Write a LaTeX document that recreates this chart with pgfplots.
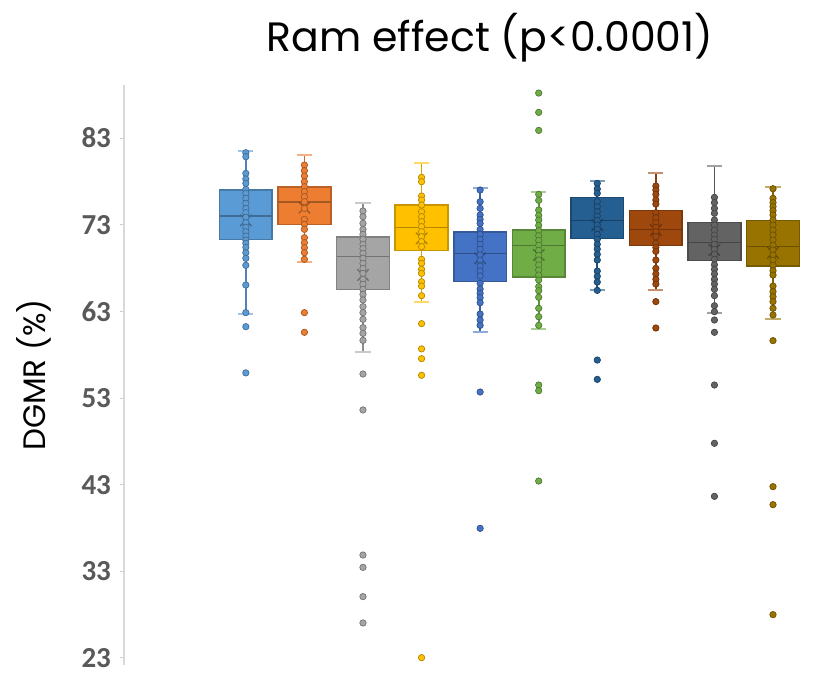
\documentclass[border=0pt]{standalone}
\usepackage{pgfplots}
\pgfplotsset{compat=1.18}
\usepackage{fontspec}
\setmainfont{Carlito}
\newfontfamily\comic{Poppins}
\definecolor{c1}{HTML}{5B9BD5}
\definecolor{c2}{HTML}{ED7D31}
\definecolor{c3}{HTML}{A5A5A5}
\definecolor{c4}{HTML}{FFC000}
\definecolor{c5}{HTML}{4472C4}
\definecolor{c6}{HTML}{70AD47}
\definecolor{c7}{HTML}{255E91}
\definecolor{c8}{HTML}{9E480E}
\definecolor{c9}{HTML}{636363}
\definecolor{c10}{HTML}{997300}
\definecolor{ticktext}{HTML}{595959}
\pgfplotsset{
  pts/.style={only marks, mark=*, mark size=1.6pt, mark options={fill=#1, draw=#1!70!black, line width=0.35pt}},
}
% #1 position, #2 lower whisker, #3 Q1, #4 median, #5 Q3, #6 upper whisker, #7 mean, #8 colour
\newcommand\drawbox[8]{%
  \addplot[draw=#8!85!black, line width=0.8pt, x filter/.expression={x+#1}] coordinates {(0,#2) (0,#3)};
  \addplot[draw=#8!85!black, line width=0.8pt, x filter/.expression={x+#1}] coordinates {(0,#5) (0,#6)};
  \addplot[draw=#8!60, line width=1pt, x filter/.expression={x+#1}] coordinates {(-0.13,#2) (0.13,#2)};
  \addplot[draw=#8!60, line width=1pt, x filter/.expression={x+#1}] coordinates {(-0.13,#6) (0.13,#6)};
  \addplot[fill=#8, draw=#8!78!black, line width=0.8pt, x filter/.expression={x+#1}] coordinates {(-0.45,#3) (0.45,#3) (0.45,#5) (-0.45,#5)} -- cycle;
  \addplot[draw=#8!70!black, line width=0.8pt, x filter/.expression={x+#1}] coordinates {(-0.45,#4) (0.45,#4)};
  \addplot[only marks, mark=x, mark size=4pt, mark options={draw=#8!65!black, line width=0.6pt}, x filter/.expression={x+#1}] coordinates {(0,#7)};
}
\begin{document}
\begin{tikzpicture}
\useasboundingbox (-62pt,-6.5pt) rectangle (354.5pt,332.5pt);
\begin{axis}[at={(0,0)}, anchor=south west, scale only axis,
  width=345pt, height=290pt,
  xmin=-1.08, xmax=10.7, ymin=22.19, ymax=89.12,
  hide x axis, axis y line*=left,
  axis line style={draw=gray!30, line width=0.6pt},
  ytick={23,33,43,53,63,73,83},
  tick align=outside, major tick length=2pt,
  tick style={draw=gray!40, line width=0.5pt},
  /pgf/number format/assume math mode=true,
  yticklabel style={font=\bfseries\fontsize{14.5}{16}\selectfont, text=ticktext, xshift=-1pt},
  clip=false]
\drawbox{1}{62.65}{71.31}{74.0}{77.0}{81.54}{73.5}{c1}
\drawbox{2}{68.69}{73.02}{75.62}{77.36}{81.04}{74.96}{c2}
\drawbox{3}{58.27}{65.5}{69.35}{71.58}{75.46}{67.19}{c3}
\drawbox{4}{64.04}{70.0}{72.69}{75.27}{80.08}{71.42}{c4}
\drawbox{5}{60.65}{66.46}{69.69}{72.19}{77.19}{69.12}{c5}
\drawbox{6}{61.0}{66.96}{70.62}{72.38}{76.73}{69.5}{c6}
\drawbox{7}{65.46}{71.42}{73.5}{76.12}{78.0}{72.96}{c7}
\drawbox{8}{65.46}{70.62}{72.46}{74.65}{79.0}{72.38}{c8}
\drawbox{9}{62.77}{68.85}{70.96}{73.23}{79.81}{70.08}{c9}
\drawbox{10}{62.12}{68.23}{70.5}{73.5}{77.38}{69.77}{c10}
% data points
\addplot[pts=c1] coordinates {(1,81.3) (1,80.85) (1,78.92) (1,78.27) (1,77.77) (1,77.08) (1,76.62) (1,76.04) (1,75.46) (1,74.88) (1,74.38) (1,73.85) (1,73.23) (1,72.69) (1,72.19) (1,71.69) (1,71.23) (1,70.85) (1,70.38) (1,69.77) (1,69.12) (1,68.31) (1,66.04) (1,62.85) (1,61.23) (1,55.9)};
\addplot[pts=c2] coordinates {(2,79.88) (2,79.23) (2,78.62) (2,77.96) (2,77.38) (2,76.81) (2,76.23) (2,75.65) (2,74.88) (2,73.61) (2,73.04) (2,72.46) (2,71.5) (2,70.92) (2,70.35) (2,69.77) (2,69.0) (2,62.85) (2,60.58)};
\addplot[pts=c3] coordinates {(3,74.58) (3,73.92) (3,73.15) (3,72.46) (3,71.88) (3,71.31) (3,70.73) (3,70.23) (3,69.69) (3,69.12) (3,68.54) (3,67.96) (3,67.38) (3,66.69) (3,66.12) (3,65.54) (3,64.96) (3,64.31) (3,63.54) (3,62.85) (3,62.08) (3,61.12) (3,60.46) (3,59.65) (3,55.77) (3,51.62) (3,34.88) (3,33.46) (3,30.08) (3,27.04)};
\addplot[pts=c4] coordinates {(4,78.46) (4,77.96) (4,76.31) (4,75.85) (4,75.27) (4,74.5) (4,73.92) (4,73.35) (4,72.77) (4,72.19) (4,71.62) (4,71.04) (4,70.46) (4,69.0) (4,68.54) (4,67.85) (4,67.38) (4,66.42) (4,65.92) (4,64.81) (4,61.58) (4,58.67) (4,57.54) (4,55.62) (4,23.04)};
\addplot[pts=c5] coordinates {(5,77.0) (5,75.65) (5,74.88) (5,74.12) (5,73.61) (5,73.15) (5,72.46) (5,71.88) (5,71.31) (5,70.73) (5,70.15) (5,69.5) (5,68.92) (5,68.23) (5,67.65) (5,67.08) (5,66.23) (5,65.58) (5,65.08) (5,64.58) (5,64.0) (5,62.69) (5,62.0) (5,61.38) (5,53.69) (5,37.96)};
\addplot[pts=c6] coordinates {(6,88.19) (6,85.96) (6,83.88) (6,76.5) (6,75.81) (6,74.69) (6,74.08) (6,73.54) (6,72.92) (6,72.31) (6,71.73) (6,71.19) (6,70.62) (6,70.04) (6,69.46) (6,68.92) (6,68.35) (6,67.77) (6,67.19) (6,66.62) (6,65.85) (6,65.38) (6,64.62) (6,63.35) (6,62.38) (6,61.38) (6,54.5) (6,53.85) (6,43.42)};
\addplot[pts=c7] coordinates {(7,77.77) (7,77.12) (7,76.62) (7,75.65) (7,75.08) (7,74.5) (7,74.0) (7,73.5) (7,72.96) (7,72.46) (7,71.88) (7,71.31) (7,70.73) (7,70.19) (7,69.58) (7,68.92) (7,67.65) (7,67.04) (7,66.38) (7,65.42) (7,57.38) (7,55.15)};
\addplot[pts=c8] coordinates {(8,77.46) (8,77.0) (8,76.5) (8,75.85) (8,75.38) (8,74.38) (8,73.81) (8,73.23) (8,72.69) (8,72.19) (8,71.62) (8,70.85) (8,70.38) (8,69.92) (8,68.92) (8,67.96) (8,67.31) (8,66.69) (8,66.15) (8,64.12) (8,61.08)};
\addplot[pts=c9] coordinates {(9,76.15) (9,75.54) (9,74.88) (9,74.31) (9,73.54) (9,72.96) (9,72.38) (9,71.81) (9,71.31) (9,70.73) (9,70.15) (9,69.58) (9,69.0) (9,68.38) (9,67.85) (9,67.31) (9,66.69) (9,66.15) (9,65.54) (9,64.81) (9,63.65) (9,62.96) (9,62.0) (9,60.58) (9,54.5) (9,47.77) (9,41.65)};
\addplot[pts=c10] coordinates {(10,77.15) (10,76.04) (10,75.54) (10,75.08) (10,74.62) (10,74.12) (10,73.54) (10,72.96) (10,72.38) (10,71.81) (10,71.23) (10,70.62) (10,70.08) (10,69.5) (10,68.92) (10,68.31) (10,67.69) (10,67.19) (10,65.92) (10,65.27) (10,64.69) (10,64.12) (10,63.35) (10,62.58) (10,59.62) (10,42.77) (10,40.69) (10,28.0)};
\node[font=\comic\fontsize{20.5}{22}\selectfont] at (axis description cs:0.5304,1.081) {Ram effect (p<0.0001)};
\node[font=\comic\fontsize{15.5}{17}\selectfont, rotate=90] at (axis description cs:-0.13,0.5) {DGMR (\%)};
\end{axis}
\end{tikzpicture}
\end{document}
